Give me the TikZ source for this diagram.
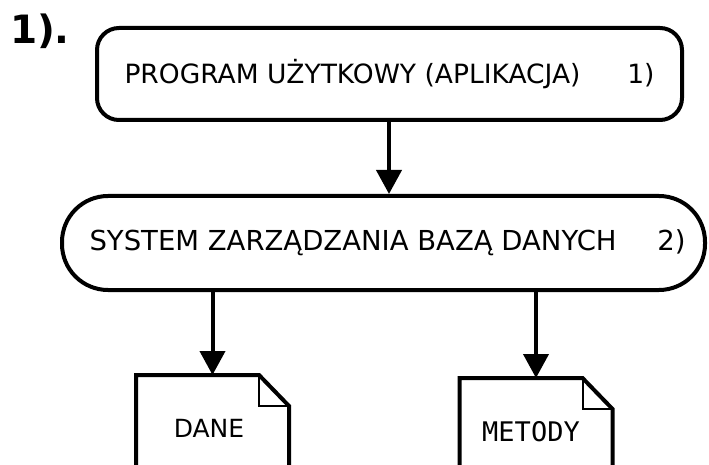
\documentclass[tikz,border=0pt]{standalone}
\usepackage{fontspec}
\setmainfont{DejaVu Sans}
\newfontfamily\monofam{DejaVu Sans Mono}
\usetikzlibrary{arrows.meta}
\begin{document}
\begin{tikzpicture}[x=1pt,y=-1pt,
  line width=4pt,
  box/.style={draw, rounded corners=22pt, minimum width=585pt, minimum height=92pt, inner sep=0pt},
  stadium/.style={draw, rounded corners=46pt, minimum width=643pt, minimum height=94pt, inner sep=0pt},
  docshape/.style={minimum width=149pt, minimum height=120pt, inner sep=0pt},
  flow/.style={-{Triangle[width=25pt,length=24pt]}},
  fold/.style={line width=2pt}]
  \useasboundingbox (0,0) rectangle (709,465);
  \clip (0,0) rectangle (709,465);

  % heading
  \node[anchor=north west, inner sep=0pt, font=\fontsize{39}{40}\bfseries\selectfont] (head) at (8,12) {1).};

  % layers
  \node[box] (app) at (389.5,74) {};
  \node[font=\fontsize{26.5}{30}\selectfont] (appt) at (app.center)
    {\makebox[530pt][s]{PROGRAM UŻYTKOWY (APLIKACJA)\hfill 1)}};
  \node[stadium] (dbms) at (383.5,243) {};
  \node[font=\fontsize{27.5}{30}\selectfont] (dbmst) at ([xshift=4pt]dbms.center)
    {\makebox[596pt][s]{SYSTEM ZARZĄDZANIA BAZĄ DANYCH\hfill 2)}};

  % data stores
  \node[docshape] (dane) at (212.5,437) {};
  \node[docshape] (metody) at (536,440) {};
  \foreach \d in {dane,metody}{
    \draw[line join=miter] ([xshift=-30pt]\d.north east) -- (\d.north west) -- (\d.south west)
      -- (\d.south east) -- ([yshift=-31pt]\d.north east) -- cycle;
    \draw[fold] ([xshift=-30pt]\d.north east) |- ([yshift=-31pt]\d.north east);
  }
  \node[font=\fontsize{25}{26}\selectfont] (danet) at (209,428) {DANE};
  \node[font=\monofam\fontsize{27}{28}\selectfont] (metodyt) at (531,432) {METODY};

  % connectors
  \draw[flow] (app.south -| 389,0) -- (dbms.north -| 389,0);
  \draw[flow] (dbms.south -| dane.north) -- (dane.north);
  \draw[flow] (dbms.south -| metody.north) -- (metody.north);
\end{tikzpicture}
\end{document}
